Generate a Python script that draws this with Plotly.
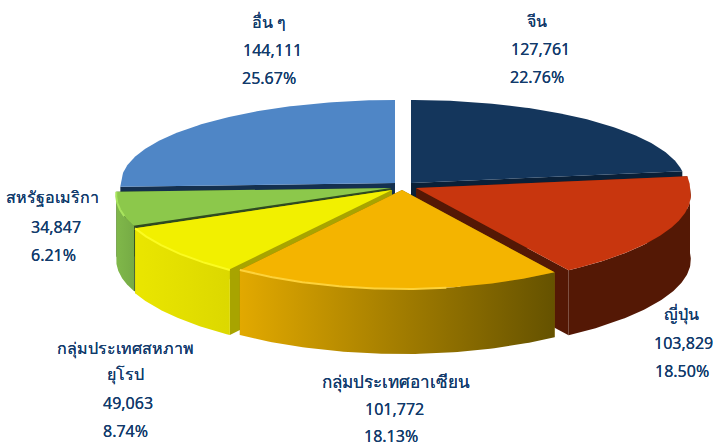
import numpy as np
import plotly.graph_objects as go

categories = ["อื่น ๆ", "จีน", "ญี่ปุ่น", "กลุ่มประเทศอาเซียน", "กลุ่มประเทศสหภาพ<br>ยุโรป", "สหรัฐอเมริกา"]
values = [144111, 127761, 103829, 101772, 49063, 34847]
percents = ["25.67%", "22.76%", "18.50%", "18.13%", "8.74%", "6.21%"]

# geometry of the tilted pie (pixel-based axes)
W, H = 713, 447
RX, RY_BACK, RY_FRONT, DEPTH = 274, 83, 99, 65
centers = {0: (395, 183), 1: (411, 183), 2: (416, 188), 3: (402, 190), 4: (392, 190), 5: (391, 188)}
top_colors = ["#4f86c6", "#14365c", "#c8360e", "#f4b400", "#f2f000", "#8cc84b"]
cut_colors = ["#14304f", "#0a2038", "#541805", "#8a6a00", "#a8a400", "#2f4a20"]
wall_grads = [None, None, ("#541805", "#541805"), ("#e2a900", "#655200"), ("#eae600", "#dcd800"), ("#80b84a", "#76ab45")]
# bevel highlight: colour and the part of the slice (0..1) that carries it
rim_styles = [None, None, None, ("#fdd23a", 0.35, 1.0), ("#fbfb20", 0.0, 1.0), ("#a8e45e", 0.3, 1.0)]
draw_order = [0, 1, 5, 4, 2, 3]

total = sum(values)
starts, a = {}, 0.0
# clockwise from 12 o'clock, beginning with China
for i in [1, 2, 3, 4, 5, 0]:
    starts[i] = (a, a + 2 * np.pi * values[i] / total)
    a += 2 * np.pi * values[i] / total


def pt(ang, c):
    ang = np.asarray(ang, dtype=float)
    cs = np.cos(ang)
    k = 1 + 0.0775 * np.maximum(0, -cs)
    ry = np.where(cs > 0, RY_BACK, RY_FRONT - 9 * (1 - cs ** 2))
    return c[0] + RX * k * np.sin(ang), c[1] - ry * cs


def poly(x, y, color=None, grad=None):
    kw = dict(fillgradient=dict(type="horizontal", colorscale=[[0, grad[0]], [1, grad[1]]])) if grad else dict(fillcolor=color)
    return go.Scatter(x=list(x), y=list(y), mode="lines", fill="toself", line=dict(width=0),
                      hoverinfo="skip", showlegend=False, **kw)


fig = go.Figure()
for i in draw_order:
    a0, a1 = starts[i]
    c = centers[i]
    # cut faces
    for edge in (a0, a1):
        ex, ey = pt(edge, c)
        fig.add_trace(poly([c[0], ex, ex, c[0]], [c[1], ey, ey + DEPTH, c[1] + DEPTH], cut_colors[i]))
    # outer wall (front facing part only)
    w0, w1 = max(a0, np.pi / 2), min(a1, 3 * np.pi / 2)
    if wall_grads[i] and w1 > w0:
        t = np.linspace(w0, w1, 80)
        wx, wy = pt(t, c)
        fig.add_trace(poly(np.r_[wx, wx[::-1]], np.r_[wy, wy[::-1] + DEPTH], grad=wall_grads[i]))
    # top face
    t = np.linspace(a0, a1, 120)
    tx, ty = pt(t, c)
    fig.add_trace(poly(np.r_[c[0], tx], np.r_[c[1], ty], top_colors[i]))
    # bevel highlight on the front rim
    if rim_styles[i] and w1 > w0:
        col, f0, f1 = rim_styles[i]
        t = np.linspace(w0 + f0 * (w1 - w0), w0 + f1 * (w1 - w0), 80)
        wx, wy = pt(t, c)
        fig.add_trace(go.Scatter(x=wx, y=wy, mode="lines", line=dict(color=col, width=2),
                                 hoverinfo="skip", showlegend=False))

# labels: x, y of each stacked row per slice
label_rows = {
    0: [(269, 22), (272, 50), (269, 78)],
    1: [(537, 21), (540, 49), (537, 77)],
    2: [(681, 314), (683, 343), (682, 371)],
    3: [(396, 381), (394, 409), (391, 436)],
    4: [(125, 348), (125, 374), (128, 403), (125, 431)],
    5: [(52, 197), (56, 227), (53, 255)],
}
name_sizes = {3: 17}
for i, rows in label_rows.items():
    texts = categories[i].split("<br>") + [f"{values[i]:,}", percents[i]]
    for j, ((x, y), s) in enumerate(zip(rows, texts)):
        fig.add_annotation(x=x, y=y, xref="x", yref="y", text=s, showarrow=False, xanchor="center", yanchor="middle",
                           font=dict(family="Noto Sans, DejaVu Sans, sans-serif",
                                     size=name_sizes.get(i, 16) if j == 0 else 16, color="#123a6b",
                                     shadow="0 0 0.6px #123a6b"),
                           align="center")

fig.update_layout(
    width=W, height=H, margin=dict(l=0, r=0, t=0, b=0), paper_bgcolor="white", plot_bgcolor="white",
    showlegend=False,
    xaxis=dict(range=[0, W], visible=False, fixedrange=True),
    yaxis=dict(range=[H, 0], visible=False, fixedrange=True),
)
fig.write_html("out.html", config={"displayModeBar": False},
               post_script="document.body.style.margin='0';document.body.style.overflow='hidden';")
